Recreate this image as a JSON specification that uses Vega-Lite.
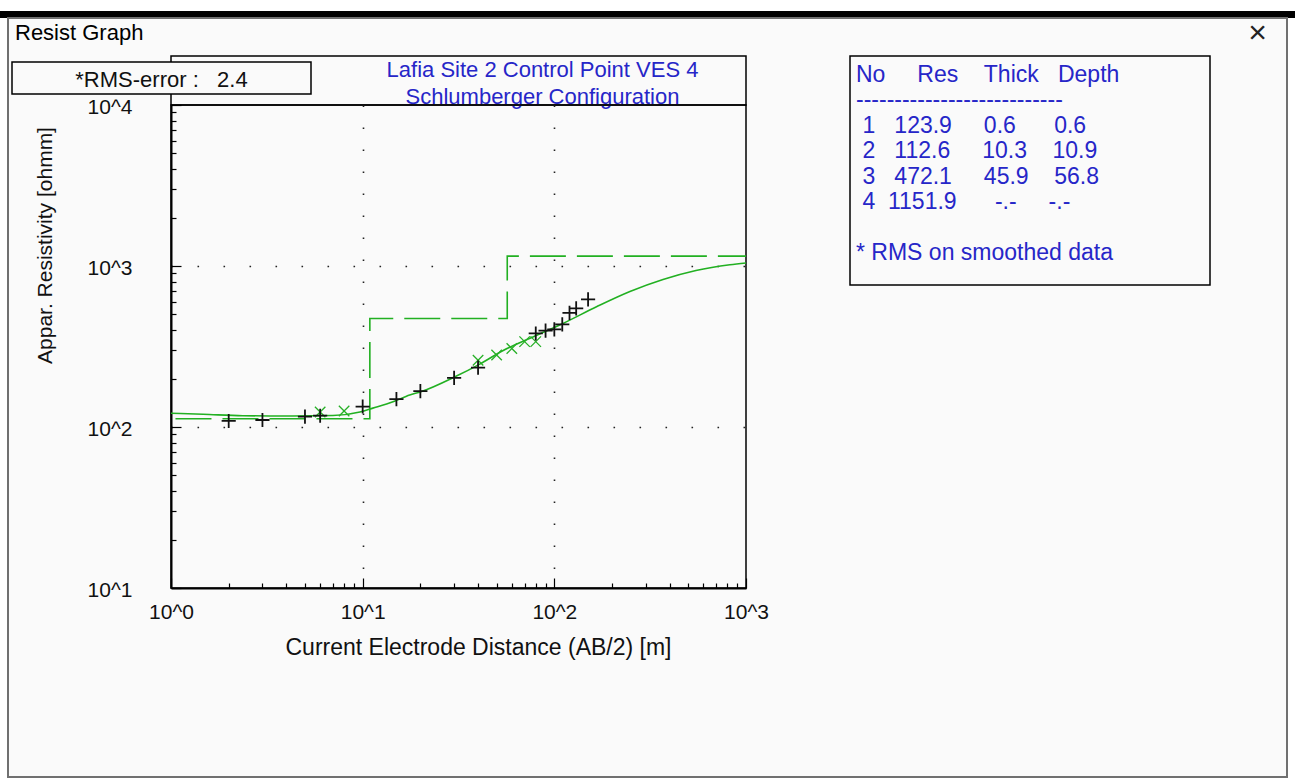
{
  "$schema": "https://vega.github.io/schema/vega-lite/v6.json",
  "background": "#ffffff",
  "padding": {"left": 0, "top": 11, "right": 0, "bottom": 3},
  "config": {
    "font": "Liberation Sans",
    "view": {"stroke": null}
  },
  "datasets": {
    "field": [
      {"dist": 2, "res": 109}, {"dist": 3, "res": 110.5}, {"dist": 5, "res": 116},
      {"dist": 6, "res": 117.5}, {"dist": 10, "res": 134}, {"dist": 15, "res": 149},
      {"dist": 20, "res": 167}, {"dist": 30, "res": 202}, {"dist": 40, "res": 234},
      {"dist": 80, "res": 381}, {"dist": 90, "res": 397}, {"dist": 100, "res": 404},
      {"dist": 110, "res": 434}, {"dist": 120, "res": 511}, {"dist": 130, "res": 546},
      {"dist": 150, "res": 621}
    ],
    "smoothed": [
      {"dist": 6, "res": 124}, {"dist": 8, "res": 125.6}, {"dist": 40, "res": 260},
      {"dist": 50, "res": 280}, {"dist": 60, "res": 307}, {"dist": 70, "res": 339},
      {"dist": 80, "res": 339}
    ],
    "curve": [
      {"dist": 1, "res": 121.7}, {"dist": 1.47, "res": 120}, {"dist": 2.37, "res": 117.5},
      {"dist": 4.33, "res": 117}, {"dist": 7, "res": 117.8}, {"dist": 9.68, "res": 124},
      {"dist": 11.3, "res": 131}, {"dist": 14.4, "res": 143.5}, {"dist": 17.6, "res": 158},
      {"dist": 20.1, "res": 165.5}, {"dist": 30.3, "res": 205}, {"dist": 40.6, "res": 245},
      {"dist": 54.1, "res": 299}, {"dist": 74.7, "res": 356}, {"dist": 111, "res": 440},
      {"dist": 166, "res": 558}, {"dist": 248, "res": 694}, {"dist": 369, "res": 824},
      {"dist": 548, "res": 937}, {"dist": 824, "res": 1018}, {"dist": 1000, "res": 1045}
    ],
    "layers": [
      {"dist": 0.6, "res": 112.6}, {"dist": 10.9, "res": 472.1},
      {"dist": 56.8, "res": 1151.9}, {"dist": 1000, "res": 1151.9}
    ],
    "titlebar": [
      {"side": "left", "t": "Resist Graph"},
      {"side": "right", "t": "×"}
    ],
    "header": [
      {"t": "Lafia Site 2 Control Point VES 4\nSchlumberger Configuration"}
    ],
    "rms": [
      {"t": "*RMS-error :\u00a0\u00a0\u00a02.4"}
    ],
    "legend": [
      {"col": 0, "line": 0, "txt": "No\u00a0\u00a0\u00a0\u00a0\u00a0Res\u00a0\u00a0\u00a0\u00a0Thick\u00a0\u00a0\u00a0Depth"},
      {"col": 0, "line": 1, "txt": "---------------------------"},
      {"col": 0, "line": 2, "txt": "\u200b\u00a01\u00a0\u00a0\u00a0123.9\u00a0\u00a0\u00a0\u00a0\u00a00.6\u00a0\u00a0\u00a0\u00a0\u00a0\u00a00.6"},
      {"col": 0, "line": 3, "txt": "\u200b\u00a02\u00a0\u00a0\u00a0112.6\u00a0\u00a0\u00a0\u00a0\u00a010.3\u00a0\u00a0\u00a0\u00a010.9"},
      {"col": 0, "line": 4, "txt": "\u200b\u00a03\u00a0\u00a0\u00a0472.1\u00a0\u00a0\u00a0\u00a0\u00a045.9\u00a0\u00a0\u00a0\u00a056.8"},
      {"col": 0, "line": 5, "txt": "\u200b\u00a04\u00a0\u00a01151.9\u00a0\u00a0\u00a0\u00a0\u00a0\u00a0-.-\u00a0\u00a0\u00a0\u00a0\u00a0-.-"},
      {"col": 0, "line": 7, "txt": "* RMS on smoothed data"}
    ]
  },
  "vconcat": [
    {
      "width": 1295, "height": 7,
      "view": {"stroke": null, "fill": "#000000"},
      "data": {"values": [{}]},
      "mark": {"type": "text", "text": "", "fontSize": 0}
    },
    {
      "hconcat": [
        {
          "vconcat": [
            {
              "width": 1, "height": 1,
              "data": {"values": [{}]},
              "mark": {"type": "text", "text": "", "fontSize": 0}
            }
          ],
          "bounds": "flush"
        },
        {
          "hconcat": [
            {
              "vconcat": [
                {
                  "width": 1279,
                  "height": 759,
                  "view": {"stroke": "#707070", "strokeWidth": 2, "fill": "#fafafa"},
                  "data": {"values": [{}]},
                  "mark": {"type": "text", "text": "", "fontSize": 0}
                }
              ],
              "bounds": "flush"
            },
            {
              "vconcat": [
                {
                  "width": 1255, "height": 30,
                  "data": {"name": "titlebar"},
                  "encoding": {
                    "x": {"field": "side", "type": "nominal", "scale": {"type": "point", "domain": ["left", "right"], "padding": 0}, "axis": null},
                    "text": {"field": "t"}
                  },
                  "layer": [
                    {
                      "transform": [{"filter": "datum.side == 'left'"}],
                      "mark": {"type": "text", "align": "left", "baseline": "middle", "dx": 3, "fontSize": 22, "color": "#000000"}
                    },
                    {
                      "transform": [{"filter": "datum.side == 'right'"}],
                      "mark": {"type": "text", "align": "right", "baseline": "middle", "fontSize": 32, "color": "#222222"}
                    }
                  ]
                },
                {
                  "hconcat": [
                    {
                      "vconcat": [
                        {
                          "hconcat": [
                            {
                              "vconcat": [
                                {
                                  "width": 1, "height": 1,
                                  "data": {"values": [{}]},
                                  "mark": {"type": "text", "text": "", "fontSize": 0}
                                }
                              ],
                              "bounds": "flush"
                            },
                            {
                              "vconcat": [
                                {
                                  "width": 575, "height": 49,
                                  "view": {"stroke": "#000000", "strokeWidth": 1.5, "fill": "#fafafa"},
                                  "data": {"name": "header"},
                                  "mark": {"type": "text", "lineBreak": "\n", "lineHeight": 27, "fontSize": 22, "color": "#2626c8", "align": "center", "baseline": "middle", "dx": 84, "dy": -11},
                                  "encoding": {"text": {"field": "t"}}
                                },
                                {
                                  "width": 575, "height": 483,
                                  "view": {"stroke": "#000000", "strokeWidth": 1.5, "fill": null},
                                  "encoding": {
                                    "x": {
                                      "field": "dist", "type": "quantitative",
                                      "scale": {"type": "log", "domain": [1, 1000], "nice": false},
                                      "axis": {
                                        "values": [1,2,3,4,5,6,7,8,9,10,20,30,40,50,60,70,80,90,100,200,300,400,500,600,700,800,900,1000],
                                        "labelExpr": "indexof([1,10,100,1000], datum.value) >= 0 ? '10^' + round(log(datum.value)/LN10) : ''",
                                        "labelFlush": false, "labelOverlap": false, "labelBound": false,
                                        "labelFontSize": 21, "labelColor": "#111111", "labelBaseline": "middle", "labelPadding": 34,
                                        "tickSize": {"condition": {"test": "indexof([1,10,100,1000], datum.value) >= 0", "value": -10}, "value": -5},
                                        "tickColor": "#000000", "tickWidth": 1.2,
                                        "domainColor": "#000000", "domainWidth": 2,
                                        "grid": true,
                                        "gridOpacity": {"condition": {"test": "datum.value == 10 || datum.value == 100", "value": 1}, "value": 0},
                                        "gridColor": "#222222", "gridWidth": 1.6, "gridDash": [1.6, 20.4],
                                        "title": "Current Electrode Distance (AB/2) [m]",
                                        "titleFontSize": 23, "titleFontWeight": "normal", "titleColor": "#111111",
                                        "titleX": 307, "titleY": 59, "titleAlign": "center", "titleBaseline": "middle"
                                      }
                                    },
                                    "y": {
                                      "field": "res", "type": "quantitative",
                                      "scale": {"type": "log", "domain": [10, 10000], "nice": false},
                                      "axis": {
                                        "values": [10,20,30,40,50,60,70,80,90,100,200,300,400,500,600,700,800,900,1000,2000,3000,4000,5000,6000,7000,8000,9000,10000],
                                        "labelExpr": "indexof([10,100,1000,10000], datum.value) >= 0 ? '10^' + round(log(datum.value)/LN10) : ''",
                                        "labelFlush": false, "labelOverlap": false, "labelBound": false,
                                        "labelFontSize": 21, "labelColor": "#111111", "labelBaseline": "middle", "labelPadding": 49, "labelOffset": 2,
                                        "tickSize": {"condition": {"test": "indexof([10,100,1000,10000], datum.value) >= 0", "value": -10}, "value": -5},
                                        "tickColor": "#000000", "tickWidth": 1.2,
                                        "domainColor": "#000000", "domainWidth": 2,
                                        "grid": true,
                                        "gridOpacity": {"condition": {"test": "datum.value == 100 || datum.value == 1000", "value": 1}, "value": 0},
                                        "gridColor": "#222222", "gridWidth": 1.6, "gridDash": [1.6, 24.4],
                                        "title": "Appar. Resistivity [ohmm]",
                                        "titleFontSize": 21, "titleFontWeight": "normal", "titleColor": "#111111",
                                        "titleX": -126, "titleY": 140, "titleAlign": "center", "titleBaseline": "middle", "titleAngle": 270
                                      }
                                    }
                                  },
                                  "layer": [
                                    {
                                      "data": {"name": "layers"},
                                      "mark": {"type": "line", "color": "#22b022", "strokeWidth": 1.6, "interpolate": "step-after", "strokeDash": [36, 11], "clip": true}
                                    },
                                    {
                                      "data": {"name": "curve"},
                                      "mark": {"type": "line", "color": "#22b022", "strokeWidth": 1.6, "interpolate": "monotone", "clip": true}
                                    },
                                    {
                                      "data": {"name": "smoothed"},
                                      "mark": {"type": "point", "shape": "M-1,-1L1,1M1,-1L-1,1", "filled": false, "size": 110, "strokeWidth": 1.3, "color": "#27b027", "opacity": 1}
                                    },
                                    {
                                      "data": {"name": "field"},
                                      "mark": {"type": "point", "shape": "M-1,0L1,0M0,-1L0,1", "filled": false, "size": 200, "strokeWidth": 1.8, "color": "#111111", "opacity": 1}
                                    }
                                  ]
                                }
                              ],
                              "spacing": 0,
                              "bounds": "flush"
                            }
                          ],
                          "spacing": 159,
                          "bounds": "flush"
                        },
                        {
                          "width": 299, "height": 32,
                          "view": {"stroke": "#000000", "strokeWidth": 1.5, "fill": "#fafafa"},
                          "data": {"name": "rms"},
                          "mark": {"type": "text", "fontSize": 22, "color": "#111111", "align": "center", "baseline": "middle", "dy": 2},
                          "encoding": {"text": {"field": "t"}}
                        }
                      ],
                      "spacing": 6,
                      "bounds": "flush"
                    },
                    {
                      "width": 360, "height": 229,
                      "view": {"stroke": "#000000", "strokeWidth": 1.5, "fill": "#fafafa"},
                      "data": {"name": "legend"},
                      "mark": {"type": "text", "align": "left", "baseline": "middle", "fontSize": 23, "color": "#2626c8", "dx": 6},
                      "encoding": {
                        "x": {"field": "col", "type": "quantitative", "scale": {"domain": [0, 1]}, "axis": null},
                        "y": {"field": "line", "type": "ordinal", "scale": {"type": "band", "domain": [0,1,2,3,4,5,6,7], "paddingInner": 0, "paddingOuter": 0.508, "align": 0.244}, "axis": null},
                        "text": {"field": "txt"}
                      }
                    }
                  ],
                  "spacing": 838,
                  "bounds": "flush"
                }
              ],
              "spacing": 8,
              "bounds": "flush"
            }
          ],
          "spacing": 4,
          "bounds": "flush"
        }
      ],
      "spacing": 8,
      "bounds": "flush"
    }
  ],
  "spacing": 0,
  "bounds": "flush"
}
